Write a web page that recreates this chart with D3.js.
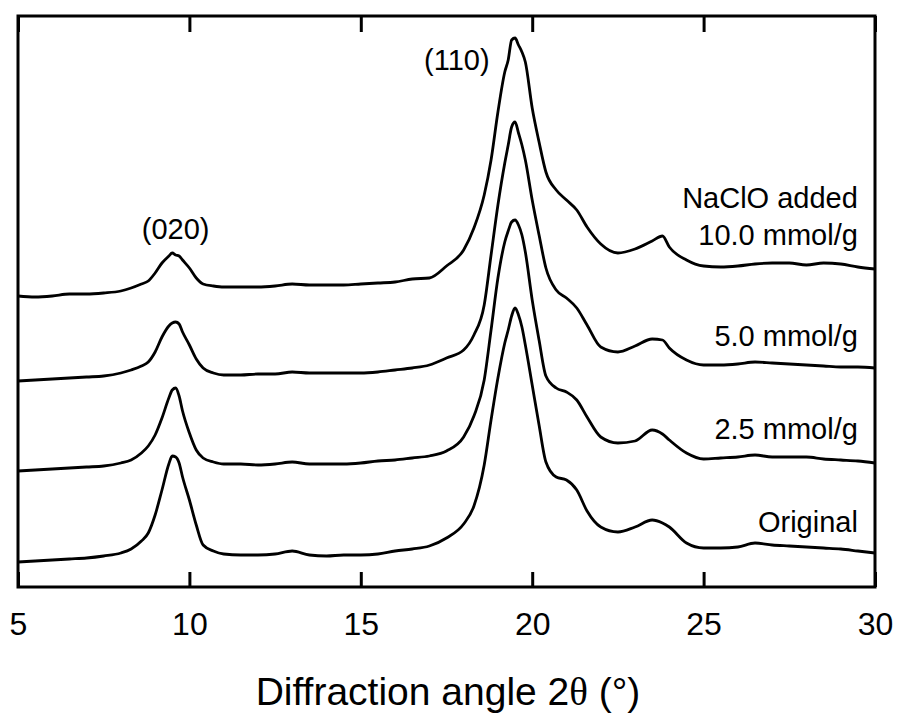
<!DOCTYPE html>
<html>
<head>
<meta charset="utf-8">
<script src="https://cdn.jsdelivr.net/npm/d3@7"></script>
<style>
  html, body { margin: 0; padding: 0; background: #fff; }
  svg { display: block; }
</style>
</head>
<body>
<div id="chart"></div>
<script>
// 2θ grid (degrees)
const twoTheta = [5.0,5.5,6.0,6.5,7.0,7.5,8.0,8.3,8.6,8.8,9.0,9.2,9.4,9.5,9.6,9.7,9.8,10.0,10.2,10.4,10.7,11.0,11.5,12.0,12.5,13.0,13.5,14.0,14.5,15.0,15.5,16.0,16.5,17.0,17.5,18.0,18.3,18.6,18.8,19.0,19.2,19.3,19.4,19.5,19.6,19.7,19.8,20.0,20.2,20.4,20.7,21.0,21.3,21.6,22.0,22.5,23.0,23.5,23.8,24.0,24.5,25.0,25.5,26.0,26.5,27.0,27.5,28.0,28.5,29.0,29.5,30.0];

// Stacked intensities (a.u., offset patterns)
const original = [250,260,270,280,290,310,340,380,460,540,720,970,1230,1310,1300,1240,1100,870,620,420,360,330,320,320,330,360,320,310,320,320,330,360,380,410,490,630,810,1220,1670,2090,2440,2570,2710,2790,2720,2600,2420,2020,1620,1250,1100,1070,970,760,600,550,600,670,640,600,440,390,390,400,440,420,410,400,390,380,360,340];
const mmol25 = [1160,1170,1180,1190,1200,1210,1240,1270,1340,1410,1520,1690,1890,1970,1990,1910,1760,1540,1370,1290,1250,1230,1230,1220,1230,1250,1230,1230,1230,1240,1260,1270,1290,1310,1360,1500,1710,2070,2570,3090,3450,3560,3650,3670,3620,3520,3350,2870,2470,2110,1990,1950,1870,1700,1500,1440,1460,1570,1530,1470,1340,1280,1290,1300,1320,1300,1300,1300,1280,1270,1260,1240];
const mmol50 = [2060,2070,2080,2090,2100,2110,2140,2170,2210,2250,2350,2500,2610,2640,2650,2630,2550,2420,2280,2190,2140,2120,2120,2130,2130,2150,2140,2140,2140,2140,2150,2170,2190,2220,2290,2370,2520,2820,3320,3820,4240,4420,4600,4650,4540,4420,4270,3870,3520,3190,2970,2890,2790,2620,2400,2350,2410,2480,2470,2390,2270,2220,2220,2230,2250,2240,2230,2220,2210,2200,2200,2190];
const mmol100 = [2910,2900,2910,2930,2930,2940,2960,2990,3030,3060,3140,3240,3310,3340,3320,3310,3270,3190,3090,3030,3010,3000,3000,3000,3010,3030,3020,3020,3020,3030,3040,3050,3080,3090,3210,3370,3590,3920,4270,4750,5150,5270,5470,5490,5420,5350,5250,4790,4450,4150,3970,3870,3770,3600,3430,3340,3380,3460,3510,3400,3270,3210,3200,3210,3230,3240,3240,3220,3240,3230,3200,3180];

const seriesNames = ["Original","2.5 mmol/g","5.0 mmol/g","10.0 mmol/g"];
const seriesValues = [original, mmol25, mmol50, mmol100];

const xTicks = [5,10,15,20,25,30];

// Label anchors in data space
const sampleLabels = [
  {text: "NaClO added", x: 29.5, y: 3790},
  {text: "10.0 mmol/g", x: 29.5, y: 3420},
  {text: "5.0 mmol/g",  x: 29.5, y: 2410},
  {text: "2.5 mmol/g",  x: 29.5, y: 1480},
  {text: "Original",    x: 29.5, y: 550}
];
const peakLabels = [
  {text: "(020)", x: 9.6, y: 3480},
  {text: "(110)", x: 17.8, y: 5170}
];

const W = 897, H = 715;
const mLeft = 18, mRight = 875, mTop = 16, mBottom = 587;

const svg = d3.select("#chart").append("svg")
  .attr("width", W).attr("height", H)
  .style("background", "#fff");

const x = d3.scaleLinear().domain([5, 30]).range([mLeft, mRight]);
const y = d3.scaleLinear().domain([0, 5710]).range([mBottom, mTop]);

const font = "'Liberation Sans', Arial, Helvetica, sans-serif";

// curves
const line = d3.line()
  .x((d, i) => x(twoTheta[i]))
  .y(d => y(d))
  .curve(d3.curveMonotoneX);

svg.append("g").selectAll("path")
  .data(seriesValues)
  .join("path")
  .attr("d", d => line(d))
  .attr("fill", "none")
  .attr("stroke", "#000")
  .attr("stroke-width", 2.8)
  .attr("stroke-linejoin", "round");

// bottom axis with inward ticks
const xAxis = d3.axisBottom(x).tickValues(xTicks)
  .tickSizeInner(-15).tickSizeOuter(0).tickPadding(25)
  .tickFormat(d3.format("d"));
const gx = svg.append("g").attr("transform", `translate(0,${mBottom})`).call(xAxis);
gx.select(".domain").remove();
gx.selectAll(".tick line").attr("stroke", "#000").attr("stroke-width", 3);
gx.selectAll(".tick text")
  .attr("fill", "#000")
  .style("font-family", font)
  .style("font-size", "32px");

// top axis ticks (no labels)
const xAxisTop = d3.axisTop(x).tickValues(xTicks)
  .tickSizeInner(-16).tickSizeOuter(0).tickFormat("");
const gt = svg.append("g").attr("transform", `translate(0,${mTop})`).call(xAxisTop);
gt.select(".domain").remove();
gt.selectAll(".tick line").attr("stroke", "#000").attr("stroke-width", 3);

// frame
svg.append("rect")
  .attr("x", mLeft).attr("y", mTop)
  .attr("width", mRight - mLeft).attr("height", mBottom - mTop)
  .attr("fill", "none").attr("stroke", "#000").attr("stroke-width", 3);

// axis title
const title = svg.append("text")
  .attr("x", 448).attr("y", 705)
  .attr("text-anchor", "middle")
  .style("font-family", font)
  .style("font-size", "39px")
  .attr("fill", "#000");
title.append("tspan").text("Diffraction angle 2");
title.append("tspan").style("font-family", "'Liberation Serif', 'DejaVu Serif', serif").text("θ");
title.append("tspan").text(" (°)");

// sample labels
svg.append("g").selectAll("text")
  .data(sampleLabels)
  .join("text")
  .attr("x", d => x(d.x)).attr("y", d => y(d.y))
  .attr("text-anchor", "end")
  .style("font-family", font)
  .style("font-size", "29px")
  .attr("fill", "#000")
  .text(d => d.text);

// peak labels
svg.append("g").selectAll("text")
  .data(peakLabels)
  .join("text")
  .attr("x", d => x(d.x)).attr("y", d => y(d.y))
  .attr("text-anchor", "middle")
  .style("font-family", font)
  .style("font-size", "29px")
  .attr("fill", "#000")
  .text(d => d.text);
</script>
</body>
</html>
